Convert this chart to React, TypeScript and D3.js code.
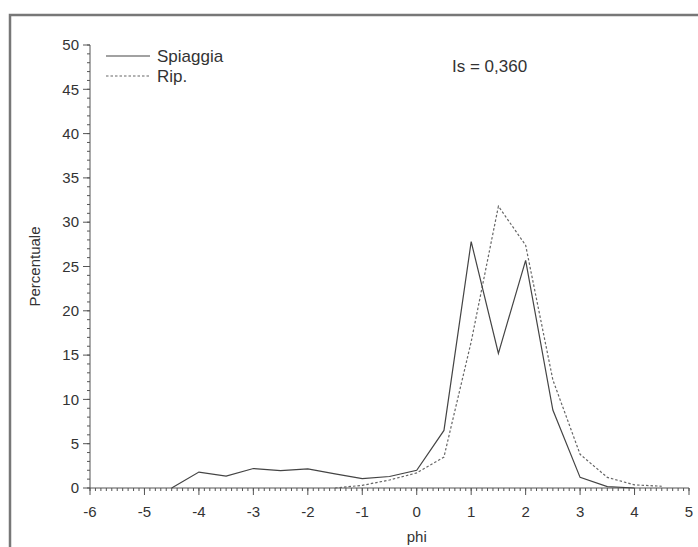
import React from 'react';
import * as d3 from 'd3';

// grain-size curves (phi classes, percent)
const spiaggiaPhi = [-4.5, -4, -3.5, -3, -2.5, -2, -1.5, -1, -0.5, 0, 0.5, 1, 1.5, 2, 2.5, 3, 3.5, 4];
const spiaggiaPct = [0, 1.8, 1.35, 2.2, 1.95, 2.15, 1.6, 1.05, 1.3, 2.0, 6.5, 27.8, 15.2, 25.7, 8.8, 1.2, 0.15, 0];

const ripPhi = [-1.5, -1, -0.5, 0, 0.5, 1, 1.5, 2, 2.5, 3, 3.5, 4, 4.5];
const ripPct = [0, 0.3, 0.9, 1.7, 3.5, 16.5, 31.8, 27.4, 12.2, 3.8, 1.2, 0.35, 0.2];

const xTicks = [-6, -5, -4, -3, -2, -1, 0, 1, 2, 3, 4, 5];
const yTicks = [0, 5, 10, 15, 20, 25, 30, 35, 40, 45, 50];

const legendItems = ['Spiaggia', 'Rip.'];
const annotation = 'Is = 0,360';

const font = '"Liberation Sans", Arial, sans-serif';
const axisColor = '#555';
const textColor = '#333';

export default function App() {
  const width = 698;
  const height = 547;

  const x = d3.scaleLinear().domain([-6, 5]).range([90, 689]);
  const y = d3.scaleLinear().domain([0, 50]).range([488, 45]);

  const line = d3
    .line<[number, number]>()
    .x(d => x(d[0]))
    .y(d => y(d[1]));

  const solidPath = line(spiaggiaPhi.map((p, i) => [p, spiaggiaPct[i]]));
  const dashPath = line(ripPhi.map((p, i) => [p, ripPct[i]]));

  const xMinor = d3.range(-60, 51).map(v => v / 10);
  const yMinor = d3.range(0, 51);

  return (
    <svg
      width={width}
      height={height}
      style={{ position: 'absolute', left: 0, top: 0, background: '#fff' }}
    >
      {/* frame */}
      <path d={`M10,${height} V15 H${width}`} fill="none" stroke="#777" strokeWidth={2.5} />

      {/* y axis */}
      <g stroke={axisColor} strokeWidth={1}>
        <line x1={x(-6)} x2={x(-6)} y1={y(0)} y2={y(50)} />
        {yMinor.map(v => (
          <line key={'ym' + v} x1={x(-6) - 3} x2={x(-6)} y1={y(v)} y2={y(v)} />
        ))}
        {yTicks.map(v => (
          <line key={'yM' + v} x1={x(-6) - 7} x2={x(-6)} y1={y(v)} y2={y(v)} />
        ))}
      </g>
      {yTicks.map(v => (
        <text
          key={'yl' + v}
          x={x(-6) - 11}
          y={y(v)}
          dy="0.35em"
          textAnchor="end"
          fontFamily={font}
          fontSize={15}
          fill={textColor}
        >
          {v}
        </text>
      ))}

      {/* x axis */}
      <g stroke={axisColor} strokeWidth={1}>
        <line x1={x(-6)} x2={x(5)} y1={y(0)} y2={y(0)} />
        {xMinor.map(v => (
          <line key={'xm' + v} x1={x(v)} x2={x(v)} y1={y(0)} y2={y(0) + 3} />
        ))}
        {xTicks.map(v => (
          <line key={'xM' + v} x1={x(v)} x2={x(v)} y1={y(0)} y2={y(0) + 7} />
        ))}
      </g>
      {xTicks.map(v => (
        <text
          key={'xl' + v}
          x={x(v)}
          y={517}
          textAnchor="middle"
          fontFamily={font}
          fontSize={15}
          fill={textColor}
        >
          {v}
        </text>
      ))}

      {/* axis titles */}
      <text x={x(0)} y={542} textAnchor="middle" fontFamily={font} fontSize={15} fill={textColor}>
        phi
      </text>
      <text
        transform={`translate(35,${(y(0) + y(50)) / 2}) rotate(-90)`}
        dy="0.35em"
        textAnchor="middle"
        fontFamily={font}
        fontSize={15}
        fill={textColor}
      >
        Percentuale
      </text>

      {/* series */}
      <path d={dashPath || ''} fill="none" stroke="#666" strokeWidth={1.2} strokeDasharray="2.5,2" />
      <path d={solidPath || ''} fill="none" stroke="#444" strokeWidth={1.2} />

      {/* legend */}
      {legendItems.map((name, i) => (
        <g key={name} transform={`translate(106,${56 + i * 20})`}>
          <line
            x1={0}
            x2={44}
            y1={0}
            y2={0}
            stroke={i === 0 ? '#444' : '#666'}
            strokeWidth={1.2}
            strokeDasharray={i === 0 ? undefined : '2.5,2'}
          />
          <text x={51} y={0} dy="0.35em" fontFamily={font} fontSize={17} fill={textColor}>
            {name}
          </text>
        </g>
      ))}

      <text x={452} y={66} dy="0.35em" fontFamily={font} fontSize={17} fill={textColor}>
        {annotation}
      </text>
    </svg>
  );
}
